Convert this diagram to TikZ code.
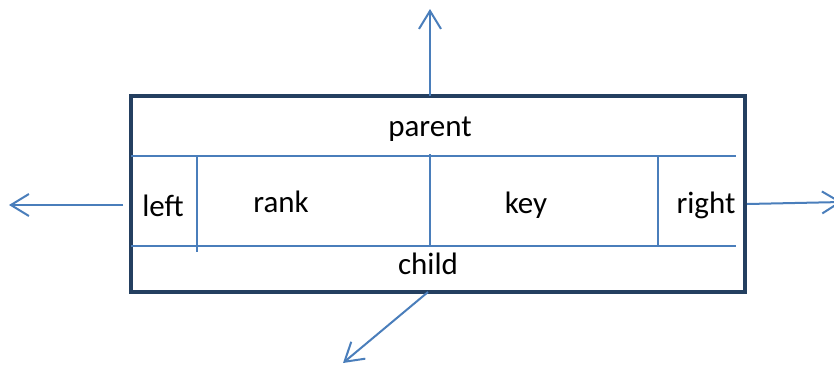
\documentclass[tikz,border=0pt]{standalone}
\usepackage{fontspec}
\setmainfont{Carlito}
\usetikzlibrary{arrows.meta}
\definecolor{navy}{HTML}{243F60}
\definecolor{lblue}{HTML}{4A7EBB}
\tikzset{
  outerbox/.style={draw=navy, line width=3.5pt},
  inner/.style={draw=lblue, line width=1.8pt},
  ptr/.style={draw=lblue, line width=2pt, -{Straight Barb[length=18pt,width=22pt,line width=2pt]}},
  lbl/.style={anchor=base, inner sep=0pt, font=\fontsize{31}{36}\selectfont},
}
\begin{document}
\begin{tikzpicture}[x=1pt,y=-1pt]
\clip (0,0) rectangle (834,365);
\fill[white] (0,0) rectangle (834,365);
% outer box
\draw[outerbox] (131,96) rectangle (745,292);
% inner lines
\draw[inner] (131,156) -- (736,156);
\draw[inner] (131,246) -- (736,246);
\draw[inner] (197,156) -- (197,252);
\draw[inner] (430,154) -- (430,246);
\draw[inner] (658,156) -- (658,246);
% labels
\node[lbl] (parent) at (430,136) {parent};
\node[lbl] (left) at (163,216) {left};
\node[lbl] (rank) at (281,212) {rank};
\node[lbl] (key) at (526,213) {key};
\node[lbl] (right) at (706,213) {right};
\node[lbl] (child) at (428,274) {child};
% pointer coordinates
\coordinate (ps) at (430,96);
\coordinate (pe) at (430,9);
\coordinate (ls) at (123,205);
\coordinate (le) at (9,205);
\coordinate (rs) at (747,204);
\coordinate (re) at (842,202);
\coordinate (cs) at (428,292);
\coordinate (ce) at (343,363);
\draw[ptr] (ps) -- (pe);
\draw[ptr] (ls) -- (le);
\draw[ptr] (rs) -- (re);
\draw[ptr] (cs) -- (ce);
\end{tikzpicture}
\end{document}
